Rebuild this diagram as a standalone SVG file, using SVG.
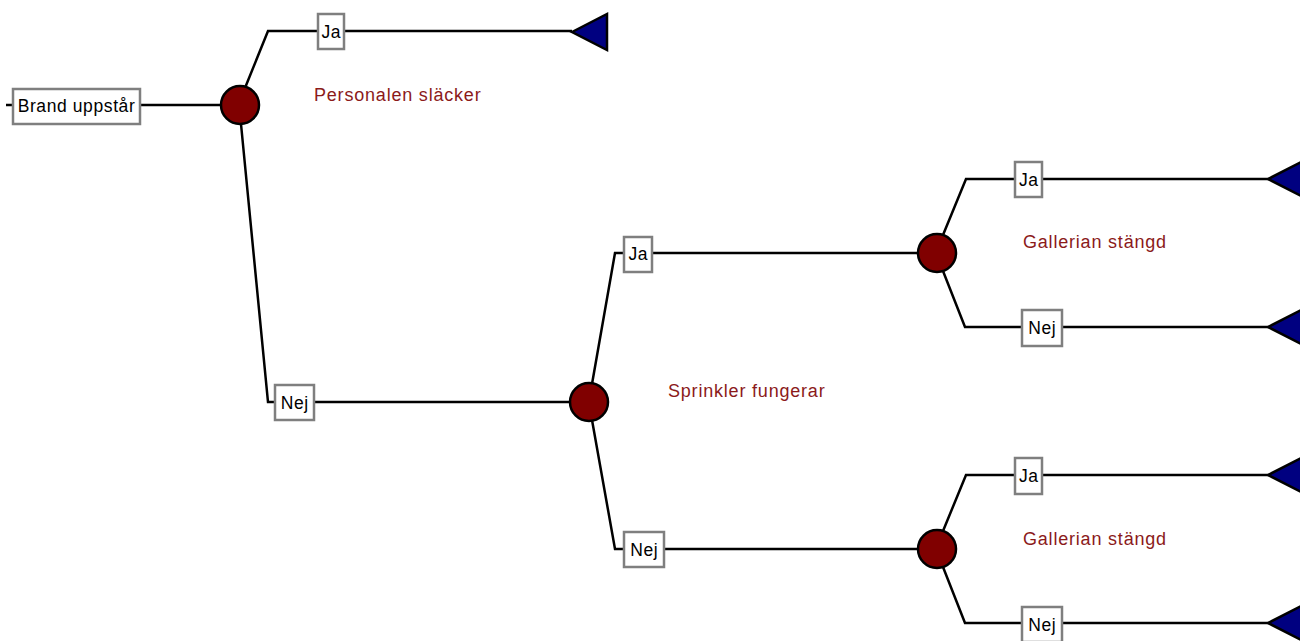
<svg xmlns="http://www.w3.org/2000/svg" width="1300" height="641" viewBox="0 0 1300 641">
<style>
.ln{stroke:#000;stroke-width:2.5;fill:none}
.box{fill:#fff;stroke:#7f7f7f;stroke-width:2.5}
.ch{fill:#800000;stroke:#000;stroke-width:2.5}
.end{fill:#000080;stroke:#000;stroke-width:2.5;stroke-linejoin:miter}
.lb{font-family:"Liberation Sans",Arial,sans-serif;font-size:17.5px;letter-spacing:0.6px;fill:#000;text-anchor:middle}
.ev{font-family:"Liberation Sans",Arial,sans-serif;font-size:18px;fill:#8b1a1a;letter-spacing:0.8px}
</style>
<rect width="1300" height="641" fill="#fff"/>
<g id="connectors">
<path class="ln" d="M6,105 H221"/>
<path class="ln" d="M245,88 L268,31 H572"/>
<path class="ln" d="M241,124 L268,402 H572"/>
<path class="ln" d="M592,384 L615,253 H920"/>
<path class="ln" d="M592,420 L615,549 H920"/>
<path class="ln" d="M943,235 L966,179 H1270"/>
<path class="ln" d="M943,271 L965,327 H1270"/>
<path class="ln" d="M943,531 L966,475 H1270"/>
<path class="ln" d="M943,567 L965,623 H1270"/>
</g>
<g id="root"><rect class="box" x="13" y="89" width="127" height="35"/><text class="lb" x="76.5" y="112">Brand uppstår</text></g>
<g id="c1"><circle class="ch" cx="240" cy="105" r="19"/></g>
<g id="lbl1-ja"><rect class="box" x="318" y="14" width="26" height="35"/><text class="lb" x="331.3" y="38">Ja</text></g>
<g id="lbl1-nej"><rect class="box" x="275" y="385" width="39" height="35"/><text class="lb" x="294.8" y="408.5">Nej</text></g>
<g id="ev1"><text class="ev" x="314" y="101">Personalen släcker</text></g>
<g id="t1"><polygon class="end" points="572,32 607,14 607,50"/></g>
<g id="c2"><circle class="ch" cx="589" cy="402" r="19"/></g>
<g id="lbl2-ja"><rect class="box" x="624" y="237" width="28" height="35"/><text class="lb" x="638.3" y="260">Ja</text></g>
<g id="lbl2-nej"><rect class="box" x="624" y="532" width="40" height="35"/><text class="lb" x="644.3" y="555.5">Nej</text></g>
<g id="ev2"><text class="ev" x="668" y="396.5">Sprinkler fungerar</text></g>
<g id="c3"><circle class="ch" cx="937" cy="253" r="19"/></g>
<g id="lbl3-ja"><rect class="box" x="1015" y="162" width="27" height="35"/><text class="lb" x="1028.8" y="185.5">Ja</text></g>
<g id="lbl3-nej"><rect class="box" x="1022" y="310" width="40" height="36"/><text class="lb" x="1042.3" y="333.5">Nej</text></g>
<g id="ev3"><text class="ev" x="1023" y="248">Gallerian stängd</text></g>
<g id="t3a"><polygon class="end" points="1268,179 1303,161 1303,197"/></g>
<g id="t3b"><polygon class="end" points="1268,327 1303,309 1303,345"/></g>
<g id="c4"><circle class="ch" cx="937" cy="549" r="19"/></g>
<g id="lbl4-ja"><rect class="box" x="1015" y="458" width="27" height="36"/><text class="lb" x="1028.8" y="482">Ja</text></g>
<g id="lbl4-nej"><rect class="box" x="1022" y="607" width="40" height="35"/><text class="lb" x="1042.3" y="630.5">Nej</text></g>
<g id="ev4"><text class="ev" x="1023" y="544.5">Gallerian stängd</text></g>
<g id="t4a"><polygon class="end" points="1268,475 1303,457 1303,493"/></g>
<g id="t4b"><polygon class="end" points="1268,623 1303,605 1303,641"/></g>
</svg>
